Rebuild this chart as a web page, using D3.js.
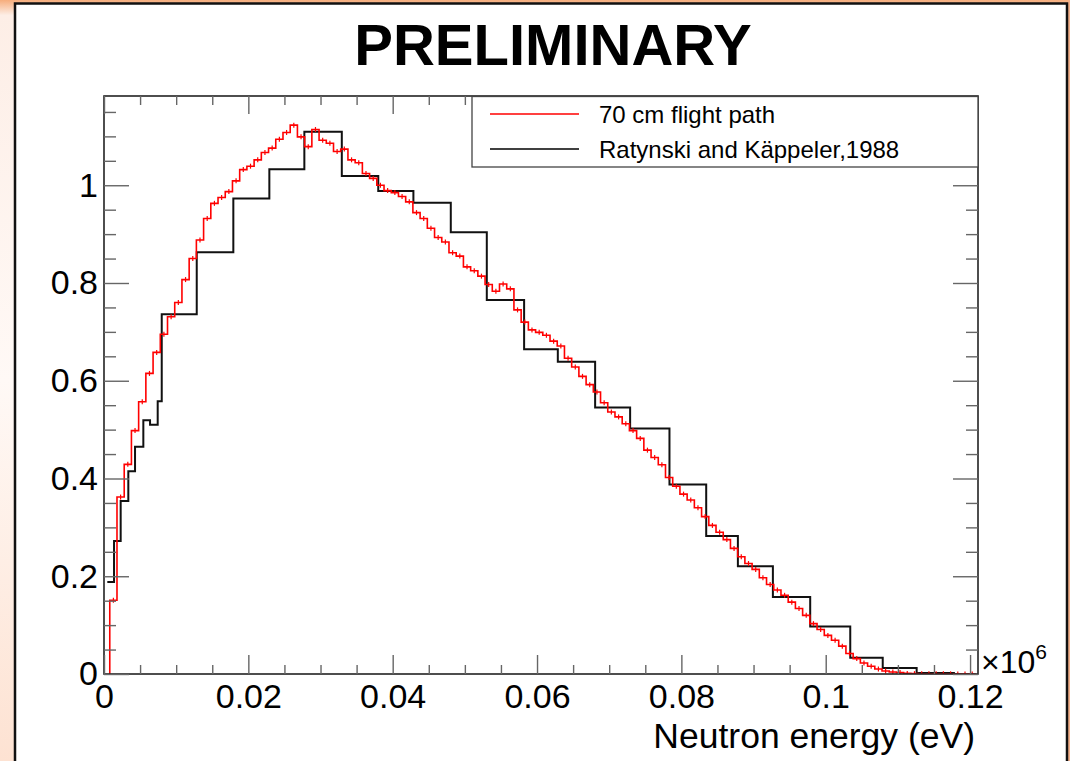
<!DOCTYPE html>
<html>
<head>
<meta charset="utf-8">
<script src="https://cdn.jsdelivr.net/npm/d3@7"></script>
<style>
  html, body { margin: 0; padding: 0; }
  body { width: 1070px; height: 761px; overflow: hidden; }
  svg { display: block; font-family: "Liberation Sans", Arial, Helvetica, sans-serif; }
</style>
</head>
<body>
<svg id="chart" width="1070" height="761"></svg>
<script>
// red histogram: 70 cm flight path, 1 keV bins starting at 0.0008 MeV
const redStart = 0.0008;
const redBinWidth = 0.001;
const redValues = [
  0.151, 0.362, 0.429, 0.498, 0.557, 0.615, 0.658, 0.695, 0.731, 0.760,
  0.807, 0.850, 0.888, 0.932, 0.963, 0.975, 0.987, 1.009, 1.032, 1.039,
  1.052, 1.067, 1.076, 1.094, 1.108, 1.123, 1.099, 1.079, 1.114, 1.092,
  1.086, 1.069, 1.074, 1.052, 1.046, 1.024, 1.014, 1.000, 0.989, 0.985,
  0.977, 0.966, 0.944, 0.932, 0.912, 0.893, 0.884, 0.862, 0.855, 0.833,
  0.825, 0.814, 0.797, 0.783, 0.798, 0.788, 0.745, 0.720, 0.704, 0.699,
  0.693, 0.681, 0.671, 0.646, 0.628, 0.609, 0.592, 0.577, 0.555, 0.536,
  0.526, 0.512, 0.498, 0.482, 0.458, 0.443, 0.428, 0.402, 0.384, 0.368,
  0.356, 0.340, 0.322, 0.304, 0.290, 0.275, 0.257, 0.240, 0.226, 0.214,
  0.197, 0.183, 0.172, 0.161, 0.147, 0.134, 0.120, 0.103, 0.091, 0.079,
  0.069, 0.057, 0.042, 0.0315, 0.0225, 0.0158, 0.0102, 0.0061, 0.0041, 0.0029,
  0.0012, 0.0008, 0.0006, 0.0005, 0.0004, 0.0003, 0.0003, 0.0002, 0.0002, 0.0001
];

// black histogram: Ratynski and Käppeler, 1988 (variable bins, MeV)
const refEdges = [
  0.00046, 0.00139, 0.00231, 0.00337, 0.0043, 0.00545, 0.00638, 0.00744, 0.0080,
  0.01285, 0.01792, 0.02291, 0.02776, 0.03295, 0.0380, 0.04287, 0.04805, 0.05304,
  0.05821, 0.06288, 0.06805, 0.0729, 0.07835, 0.08344, 0.08783, 0.09268, 0.09785,
  0.1034, 0.1079, 0.1126, 0.1179
];
const refValues = [
  0.188, 0.272, 0.354, 0.415, 0.465, 0.519, 0.510, 0.558,
  0.736, 0.863, 0.973, 1.0325, 1.1095, 1.019, 0.988, 0.964, 0.9036, 0.765,
  0.6647, 0.6387, 0.5453, 0.5023, 0.3877, 0.2825, 0.2205, 0.1576, 0.097,
  0.0335, 0.0123, 0.002
];

const xMajor = [0, 0.02, 0.04, 0.06, 0.08, 0.1, 0.12];
const yMajor = [0, 0.2, 0.4, 0.6, 0.8, 1];
const xMinorStep = 0.005;
const yMinorStep = 0.05;
const xMax = 0.1211;
const yMax = 1.1826;

const legendLabels = ["70 cm flight path", "Ratynski and Käppeler,1988"];
const legendColors = ["#ff0000", "#000000"];

const svg = d3.select('#chart');
const frame = { left: 104, top: 96, right: 978, bottom: 674 };

// background slide
const defs = svg.append('defs');
const grad = defs.append('linearGradient')
  .attr('id', 'bg').attr('x1', 0).attr('y1', 0).attr('x2', 0).attr('y2', 1);
grad.append('stop').attr('offset', '0%').attr('stop-color', '#f6ad7c');
grad.append('stop').attr('offset', '2%').attr('stop-color', '#fdeee6');
grad.append('stop').attr('offset', '50%').attr('stop-color', '#fff9f6');
grad.append('stop').attr('offset', '100%').attr('stop-color', '#fde2d2');
svg.append('rect').attr('width', 1070).attr('height', 761).attr('fill', 'url(#bg)');
svg.append('rect').attr('x', 1068).attr('width', 2).attr('height', 761).attr('fill', '#f3b08a');

svg.append('rect')
  .attr('x', 15).attr('y', 3.5).attr('width', 1052).attr('height', 780)
  .attr('fill', '#fff').attr('stroke', '#111').attr('stroke-width', 2.5);

svg.append('text')
  .attr('x', 553).attr('y', 65)
  .attr('text-anchor', 'middle')
  .attr('font-size', 58).attr('font-weight', 'bold')
  .text('PRELIMINARY');

const x = d3.scaleLinear().domain([0, xMax]).range([frame.left, frame.right]);
const y = d3.scaleLinear().domain([0, yMax]).range([frame.bottom, frame.top]);

const xMinor = d3.range(0, xMax, xMinorStep).filter(v => !xMajor.some(m => Math.abs(m - v) < 1e-9));
const yMinor = d3.range(0, yMax, yMinorStep).filter(v => !yMajor.some(m => Math.abs(m - v) < 1e-9));

defs.append('clipPath').attr('id', 'clip')
  .append('rect')
  .attr('x', frame.left).attr('y', frame.top)
  .attr('width', frame.right - frame.left).attr('height', frame.bottom - frame.top);

// histograms
const plot = svg.append('g').attr('clip-path', 'url(#clip)');

const line = d3.line().x(d => x(d[0])).y(d => y(d[1]));

const redPts = [[redStart, 0]];
redValues.forEach((v, i) => {
  const lo = redStart + i * redBinWidth;
  redPts.push([lo, v], [lo + redBinWidth, v]);
});

const refPts = [];
refValues.forEach((v, i) => {
  refPts.push([refEdges[i], v], [refEdges[i + 1], v]);
});

plot.append('path')
  .datum(refPts)
  .attr('fill', 'none')
  .attr('stroke', '#111')
  .attr('stroke-width', 2)
  .attr('d', line);

plot.append('path')
  .datum(redPts)
  .attr('fill', 'none')
  .attr('stroke', '#ff0000')
  .attr('stroke-width', 1.6)
  .attr('d', line);

// small error bars on red bins
plot.selectAll('.err')
  .data(redValues)
  .enter().append('line')
  .attr('class', 'err')
  .attr('x1', (d, i) => x(redStart + (i + 0.5) * redBinWidth))
  .attr('x2', (d, i) => x(redStart + (i + 0.5) * redBinWidth))
  .attr('y1', d => y(d) - 2.5)
  .attr('y2', d => y(d) + 2.5)
  .attr('stroke', '#ff0000')
  .attr('stroke-width', 1.2);

// frame
svg.append('rect')
  .attr('x', frame.left).attr('y', frame.top)
  .attr('width', frame.right - frame.left).attr('height', frame.bottom - frame.top)
  .attr('fill', 'none').attr('stroke', '#222').attr('stroke-width', 1.6);

const fmt = d3.format('~g');

const styleAxis = g => {
  g.select('.domain').remove();
  g.selectAll('.tick line').attr('stroke', '#666').attr('stroke-width', 1.4);
  g.selectAll('.tick text').attr('fill', '#000').attr('font-size', 34)
    .attr('font-family', '"Liberation Sans", Arial, sans-serif');
};

// bottom axis
svg.append('g')
  .attr('transform', `translate(0,${frame.bottom})`)
  .call(d3.axisBottom(x).tickValues(xMinor).tickFormat('').tickSize(-9))
  .call(styleAxis);
svg.append('g')
  .attr('transform', `translate(0,${frame.bottom})`)
  .call(d3.axisBottom(x).tickValues(xMajor).tickFormat(fmt).tickSize(-19).tickPadding(10))
  .call(styleAxis);

// top axis
svg.append('g')
  .attr('transform', `translate(0,${frame.top})`)
  .call(d3.axisTop(x).tickValues(xMinor).tickFormat('').tickSize(-9))
  .call(styleAxis);
svg.append('g')
  .attr('transform', `translate(0,${frame.top})`)
  .call(d3.axisTop(x).tickValues(xMajor).tickFormat('').tickSize(-18))
  .call(styleAxis);

// left axis
svg.append('g')
  .attr('transform', `translate(${frame.left},0)`)
  .call(d3.axisLeft(y).tickValues(yMinor).tickFormat('').tickSize(-12))
  .call(styleAxis);
svg.append('g')
  .attr('transform', `translate(${frame.left},0)`)
  .call(d3.axisLeft(y).tickValues(yMajor).tickFormat(fmt).tickSize(-25).tickPadding(6))
  .call(styleAxis);

// right axis
svg.append('g')
  .attr('transform', `translate(${frame.right},0)`)
  .call(d3.axisRight(y).tickValues(yMinor).tickFormat('').tickSize(-12))
  .call(styleAxis);
svg.append('g')
  .attr('transform', `translate(${frame.right},0)`)
  .call(d3.axisRight(y).tickValues(yMajor).tickFormat('').tickSize(-25))
  .call(styleAxis);

// axis title and exponent
svg.append('text')
  .attr('x', 975).attr('y', 748)
  .attr('text-anchor', 'end')
  .attr('font-size', 35.5)
  .text('Neutron energy (eV)');

const expo = svg.append('text')
  .attr('x', 981).attr('y', 673)
  .attr('font-size', 32);
expo.append('tspan').text('×10');
expo.append('tspan').attr('font-size', 21).attr('dy', -14).text('6');

// legend
const legend = svg.append('g');
legend.append('rect')
  .attr('x', 472).attr('y', 96.5)
  .attr('width', frame.right - 472).attr('height', 70.5)
  .attr('fill', '#fff').attr('stroke', '#444').attr('stroke-width', 1.3);

const rows = legend.selectAll('.row')
  .data(legendLabels)
  .enter().append('g')
  .attr('class', 'row')
  .attr('transform', (d, i) => `translate(0,${114 + i * 35})`);

rows.append('line')
  .attr('x1', 490).attr('x2', 579)
  .attr('stroke', (d, i) => legendColors[i])
  .attr('stroke-width', 1.6);

rows.append('text')
  .attr('x', 599).attr('y', 8.5)
  .attr('font-size', 24)
  .text(d => d);
</script>
</body>
</html>
